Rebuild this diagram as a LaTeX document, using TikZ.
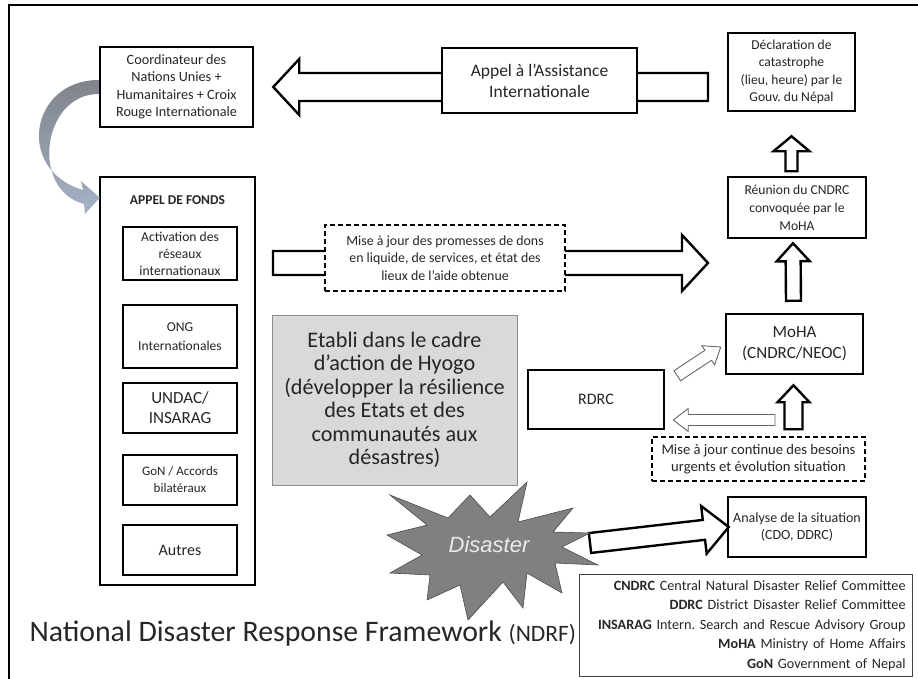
\documentclass[tikz,border=0pt]{standalone}
\usepackage{fontspec}
\setmainfont{Carlito}
\newfontfamily\arialfont{Liberation Sans}
\usetikzlibrary{calc}
\frenchspacing
\definecolor{hyogogray}{RGB}{217,217,217}
\definecolor{burstgray}{RGB}{128,128,128}
\definecolor{swoopgray}{RGB}{128,132,140}
\definecolor{swoopblue}{RGB}{165,178,198}
\newcommand{\fsz}[2]{\fontsize{#1}{#2}\selectfont}
% block arrow: [style]{tail}{tip}{shaft half width}{head half width}{head length}
\newcommand{\fatarrow}[6][]{%
  \path ($(#3)!#6!(#2)$) coordinate (fa-base);
  \draw[#1] ($(#2)!#4!90:(#3)$) -- ($(fa-base)!#4!90:(#3)$) -- ($(fa-base)!#5!90:(#3)$)
    -- (#3) -- ($(fa-base)!#5!-90:(#3)$) -- ($(fa-base)!#4!-90:(#3)$) -- ($(#2)!#4!-90:(#3)$) -- cycle;
}
\tikzset{
	box/.style={draw=black, line width=2.5pt, fill=white, align=center, inner sep=2pt, text=black!85},
	dashbox/.style={box, line width=2.2pt, dashed, dash pattern=on 5pt off 3pt},
	subbox/.style={box, minimum width=114pt, minimum height=50pt},
	fat/.style={draw=black, line width=2.4pt, fill=white},
	lightarrow/.style={draw=black!60, line width=0.9pt, fill=white},
}

\begin{document}
\begin{tikzpicture}[x=1pt,y=-1pt]
	\useasboundingbox (0,0) rectangle (918,679);
	% outer frame
	\draw[line width=2.4pt] (9,679) -- (9,5) -- (918,5);
	
	% boxes that lie under the arrows
	\node[box, minimum width=153pt, minimum height=80pt, font=\fsz{14.2}{17.5}] (coord) at (176.5,87)
		{Coordinateur des\\Nations Unies +\\Humanitaires + Croix\\Rouge Internationale};
	\node[box, minimum width=127pt, minimum height=78pt, font=\fsz{13.6}{17.5}] (declar) at (791.5,72)
		{Déclaration de\\catastrophe\\(lieu, heure) par le\\Gouv. du Népal};
	\node[box, minimum width=138pt, minimum height=61pt, font=\fsz{13.6}{18}] (reunion) at (797,207.5)
		{Réunion du CNDRC\\convoquée par le\\MoHA};
	\node[box, minimum width=137pt, minimum height=60pt, font=\fsz{17}{21}] (moha) at (794.5,344)
		{MoHA\\(CNDRC/NEOC)};
	\node[box, minimum width=136pt, minimum height=59pt, font=\fsz{16}{18}] (rdrc) at (596,399.5) {RDRC};
	\node[box, minimum width=138pt, minimum height=60pt, font=\fsz{14}{17}] (analyse) at (797,527)
		{Analyse de la situation\\(CDO, DDRC)};
	
	% appel de fonds column
	\node[box, minimum width=155pt, minimum height=408pt] (fonds) at (177.5,381) {};
	\node[font=\bfseries\fsz{13.5}{15}, text=black!85] (fonds-title) at (177.5,200) {APPEL DE FONDS};
	\node[subbox, minimum height=53pt, font=\fsz{13.6}{17}] (reseaux) at (180,253.5)
		{Activation des\\réseaux\\internationaux};
	\node[subbox, minimum height=63pt, font=\fsz{13.6}{19}] (ong) at (180,336.5) {ONG\\Internationales};
	\node[subbox, font=\fsz{17}{20}] (undac) at (180,408) {UNDAC/\\INSARAG};
	\node[subbox, font=\fsz{13}{17}] (gon) at (180,480) {GoN / Accords\\bilatéraux};
	\node[subbox, font=\fsz{16}{18}] (autres) at (180,550) {Autres};
	
	% Hyogo framework note
	\node[draw=black!45, line width=0.8pt, fill=hyogogray, minimum width=245pt, minimum height=170pt,
		align=center, text=black!85, font=\fsz{22.2}{23.5}] (hyogo) at (394.5,400)
		{Etabli dans le cadre\\d’action de Hyogo\\(développer la résilience\\des Etats et des\\communautés aux\\désastres)};
	
	% legend and title
	\node[draw=black!75, line width=0.8pt, text width=319pt, inner xsep=7pt, minimum height=102pt,
		align=right, anchor=north east, text=black!85, font=\fsz{14.2}{19.5}] (legend) at (913,574)
		{\textbf{CNDRC} Central Natural Disaster Relief Committee\\
		 \textbf{DDRC} District Disaster Relief Committee\\
		 \textbf{INSARAG} Intern. Search and Rescue Advisory Group\\
		 \textbf{MoHA} Ministry of Home Affairs\\
		 \textbf{GoN} Government of Nepal};
	\node[anchor=west, text=black!85, font=\fsz{29.8}{30}] (title) at (26,634)
		{National Disaster Response Framework {\fsz{23.5}{24}(NDRF)}};
	
	% block arrows
	\coordinate (call-tail) at (708,87);
	\fatarrow[fat]{call-tail}{$(coord.east)+(19,0)$}{14pt}{28pt}{26pt}
	\coordinate (pledge-tail) at (273,263);
	\coordinate (pledge-tip) at (708,263);
	\fatarrow[fat]{pledge-tail}{pledge-tip}{12pt}{28pt}{26pt}
	\fatarrow[fat]{$(declar.south)+(0,59)$}{$(declar.south)+(0,24)$}{6pt}{18pt}{15pt}
	\fatarrow[fat]{$(moha.north)+(-1,-12)$}{$(reunion.south)+(-4,4)$}{7.5pt}{16.5pt}{18pt}
	\fatarrow[fat]{$(moha.south)+(-1,54)$}{$(moha.south)+(-1,10)$}{9pt}{16pt}{17pt}
	\coordinate (update-tail) at (775,420);
	\fatarrow[lightarrow]{update-tail}{$(rdrc.east)+(8,20.5)$}{5.5pt}{11.5pt}{15pt}
	\fatarrow[lightarrow]{$(rdrc.north east)+(12,7)$}{$(moha.west)+(-4,3)$}{6pt}{11.5pt}{15pt}
	\coordinate (burst-tail) at (590,543);
	\fatarrow[fat]{burst-tail}{$(analyse.west)+(2,0)$}{10pt}{24pt}{25pt}
	
	% boxes laid over the arrows
	\node[box, minimum width=195pt, minimum height=65pt, font=\fsz{17.5}{21}] (appel) at (539.5,80.5)
		{Appel à l’Assistance\\Internationale};
	\node[dashbox, minimum width=240pt, minimum height=66pt, font=\fsz{13.9}{17.5}] (promesses) at (445,258)
		{Mise à jour des promesses de dons\\en liquide, de services, et état des\\lieux de l'aide obtenue};
	\node[dashbox, minimum width=213pt, minimum height=44pt, font=\fsz{14.6}{17}] (besoins) at (758.5,459)
		{Mise à jour continue des besoins\\urgents et évolution situation};
	
	% curved arrow from coordinator to appel de fonds
	\shade[top color=swoopgray, bottom color=swoopblue]
		($(coord.west)+(0,-7)$) .. controls (30,80) and (15,170) .. (83,190)
		-- (81,181) -- ($(fonds.north west)+(1,22)$) -- (85,214) -- (84,204)
		.. controls (30,190) and (42,94) .. ($(coord.west)+(0,7)$) -- cycle;
	
	% disaster starburst
	\draw[fill=burstgray, draw=black!70, line width=0.6pt]
		(390,495) -- (448,518) -- (470,495) -- (490,517) -- (527,482) -- (518,522)
		-- (573,508) -- (553,532) -- (590,533) -- (562,547) -- (598,565) -- (555,563)
		-- (562,593) -- (527,573) -- (523,608) -- (503,582) -- (468,620) -- (460,585)
		-- (427,600) -- (430,575) -- (390,573) -- (422,555) -- (387,535) -- (427,525) -- cycle;
	\node[text=black!8, font=\arialfont\itshape\fsz{22}{24}] (disaster) at (489,545) {Disaster};
\end{tikzpicture}
\end{document}
